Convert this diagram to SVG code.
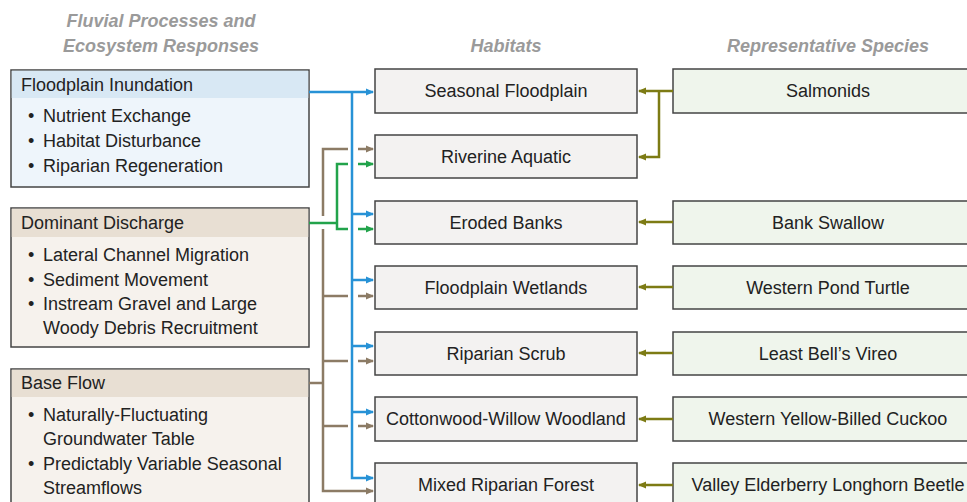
<svg xmlns="http://www.w3.org/2000/svg" width="967" height="502" viewBox="0 0 967 502">
<defs>
<style>
text{font-family:"Liberation Sans",Arial,sans-serif;font-size:18px;fill:#222}
.title{font-weight:bold;font-style:italic;fill:#9a9a9a;text-anchor:middle}
.c{text-anchor:middle}
.box{stroke:#444;stroke-width:1.5}
.hab{fill:#f3f2f1}
.sp{fill:#eff5ec}
.blue{stroke:#2792d6;stroke-width:2.5;fill:none}
.brown{stroke:#8c7b65;stroke-width:2.5;fill:none}
.green{stroke:#22a34b;stroke-width:2.5;fill:none}
.olive{stroke:#7d7b14;stroke-width:2.5;fill:none}
</style>
<marker id="aBlue" markerWidth="8" markerHeight="8" refX="7" refY="4" orient="auto" markerUnits="userSpaceOnUse"><path d="M0,0.5 L8,4 L0,7.5 Z" fill="#2792d6"/></marker>
<marker id="aBrown" markerWidth="8" markerHeight="8" refX="7" refY="4" orient="auto" markerUnits="userSpaceOnUse"><path d="M0,0.5 L8,4 L0,7.5 Z" fill="#8c7b65"/></marker>
<marker id="aGreen" markerWidth="8" markerHeight="8" refX="7" refY="4" orient="auto" markerUnits="userSpaceOnUse"><path d="M0,0.5 L8,4 L0,7.5 Z" fill="#22a34b"/></marker>
<marker id="aOlive" markerWidth="8" markerHeight="8" refX="7" refY="4" orient="auto" markerUnits="userSpaceOnUse"><path d="M0,0.5 L8,4 L0,7.5 Z" fill="#7d7b14"/></marker>
</defs>
<rect width="967" height="502" fill="#ffffff"/>

<g id="headings">
<text class="title" x="161" y="27">Fluvial Processes and</text>
<text class="title" x="161" y="52">Ecosystem Responses</text>
<text class="title" x="506" y="52">Habitats</text>
<text class="title" x="828" y="52">Representative Species</text>
</g>

<g id="floodplain-inundation">
<rect class="box" x="11" y="70" width="298" height="117" fill="#eef5fb"/>
<rect x="11.75" y="70.75" width="296.5" height="27.25" fill="#d8e8f4"/>
<text x="21" y="91">Floodplain Inundation</text>
<text x="28" y="122">•</text><text x="43" y="122">Nutrient Exchange</text>
<text x="28" y="147">•</text><text x="43" y="147">Habitat Disturbance</text>
<text x="28" y="172">•</text><text x="43" y="172">Riparian Regeneration</text>
</g>

<g id="dominant-discharge">
<rect class="box" x="11" y="208" width="298" height="139" fill="#f6f2ed"/>
<rect x="11.75" y="208.75" width="296.5" height="28.25" fill="#e8dfd3"/>
<text x="21" y="229">Dominant Discharge</text>
<text x="28" y="261">•</text><text x="43" y="261">Lateral Channel Migration</text>
<text x="28" y="286">•</text><text x="43" y="286">Sediment Movement</text>
<text x="28" y="310">•</text><text x="43" y="310">Instream Gravel and Large</text>
<text x="43" y="334">Woody Debris Recruitment</text>
</g>

<g id="base-flow">
<rect class="box" x="11" y="369" width="298" height="150" fill="#f6f2ed"/>
<rect x="11.75" y="369.75" width="296.5" height="27.25" fill="#e8dfd3"/>
<text x="21" y="389">Base Flow</text>
<text x="28" y="421">•</text><text x="43" y="421">Naturally-Fluctuating</text>
<text x="43" y="445">Groundwater Table</text>
<text x="28" y="470">•</text><text x="43" y="470">Predictably Variable Seasonal</text>
<text x="43" y="494">Streamflows</text>
</g>

<g id="habitat-seasonal-floodplain"><rect class="box hab" x="375" y="69" width="262" height="44"/><text class="c" x="506" y="97">Seasonal Floodplain</text></g>
<g id="habitat-riverine-aquatic"><rect class="box hab" x="375" y="135" width="262" height="43"/><text class="c" x="506" y="163">Riverine Aquatic</text></g>
<g id="habitat-eroded-banks"><rect class="box hab" x="375" y="201" width="262" height="43"/><text class="c" x="506" y="229">Eroded Banks</text></g>
<g id="habitat-floodplain-wetlands"><rect class="box hab" x="375" y="266" width="262" height="43"/><text class="c" x="506" y="294">Floodplain Wetlands</text></g>
<g id="habitat-riparian-scrub"><rect class="box hab" x="375" y="332" width="262" height="43"/><text class="c" x="506" y="360">Riparian Scrub</text></g>
<g id="habitat-cottonwood"><rect class="box hab" x="375" y="397" width="262" height="44"/><text class="c" x="506" y="425">Cottonwood-Willow Woodland</text></g>
<g id="habitat-mixed-riparian"><rect class="box hab" x="375" y="463" width="262" height="44"/><text class="c" x="506" y="491">Mixed Riparian Forest</text></g>

<g id="species-salmonids"><rect class="box sp" x="673" y="69" width="320" height="44"/><text class="c" x="828" y="97">Salmonids</text></g>
<g id="species-bank-swallow"><rect class="box sp" x="673" y="201" width="320" height="43"/><text class="c" x="828" y="229">Bank Swallow</text></g>
<g id="species-pond-turtle"><rect class="box sp" x="673" y="266" width="320" height="43"/><text class="c" x="828" y="294">Western Pond Turtle</text></g>
<g id="species-bells-vireo"><rect class="box sp" x="673" y="332" width="320" height="43"/><text class="c" x="828" y="360">Least Bell’s Vireo</text></g>
<g id="species-cuckoo"><rect class="box sp" x="673" y="397" width="320" height="44"/><text class="c" x="828" y="425">Western Yellow-Billed Cuckoo</text></g>
<g id="species-beetle"><rect class="box sp" x="673" y="463" width="320" height="44"/><text class="c" x="828" y="491">Valley Elderberry Longhorn Beetle</text></g>

<g id="connectors">
<!-- blue: floodplain inundation -->
<path class="blue" d="M309,92 H373" marker-end="url(#aBlue)"/>
<path class="blue" d="M352,92 V478 H373" marker-end="url(#aBlue)"/>
<path class="blue" d="M352,214 H373" marker-end="url(#aBlue)"/>
<path class="blue" d="M352,280 H373" marker-end="url(#aBlue)"/>
<path class="blue" d="M352,346 H373" marker-end="url(#aBlue)"/>
<path class="blue" d="M352,412 H373" marker-end="url(#aBlue)"/>
<!-- brown: base flow -->
<path class="brown" d="M309,383 H323"/>
<path class="brown" d="M348,149 H323 V216"/>
<path class="brown" d="M323,229 V491 H373" marker-end="url(#aBrown)"/>
<path class="brown" d="M358,149 H373" marker-end="url(#aBrown)"/>
<path class="brown" d="M323,296 H348"/><path class="brown" d="M358,296 H373" marker-end="url(#aBrown)"/>
<path class="brown" d="M323,361 H348"/><path class="brown" d="M358,361 H373" marker-end="url(#aBrown)"/>
<path class="brown" d="M323,426 H348"/><path class="brown" d="M358,426 H373" marker-end="url(#aBrown)"/>
<!-- green: dominant discharge -->
<path class="green" d="M309,223 H337"/>
<path class="green" d="M348,164 H337 V229 H348"/>
<path class="green" d="M358,164 H373" marker-end="url(#aGreen)"/>
<path class="green" d="M358,229 H373" marker-end="url(#aGreen)"/>
<!-- olive: species to habitats -->
<path class="olive" d="M673,91 H639" marker-end="url(#aOlive)"/>
<path class="olive" d="M659,91 V157 H639" marker-end="url(#aOlive)"/>
<path class="olive" d="M673,222 H639" marker-end="url(#aOlive)"/>
<path class="olive" d="M673,287 H639" marker-end="url(#aOlive)"/>
<path class="olive" d="M673,353 H639" marker-end="url(#aOlive)"/>
<path class="olive" d="M673,419 H639" marker-end="url(#aOlive)"/>
<path class="olive" d="M673,485 H639" marker-end="url(#aOlive)"/>
</g>
</svg>
